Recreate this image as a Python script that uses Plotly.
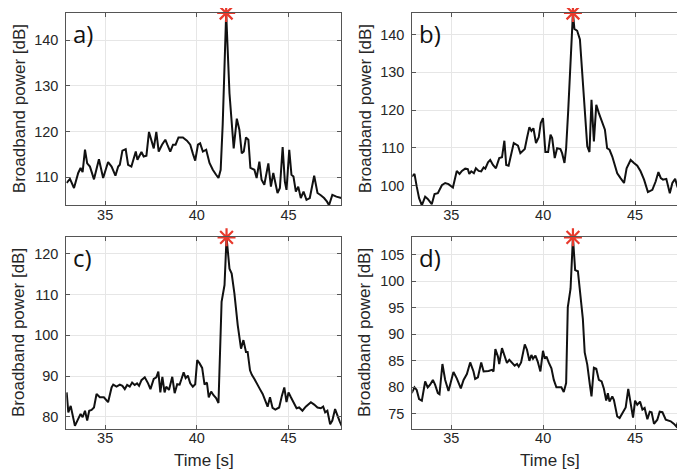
import plotly.graph_objects as go
from plotly.subplots import make_subplots

# ---------------- data ----------------
t_a = [32.9, 33.08, 33.3, 33.53, 33.66, 33.77, 33.9, 34.02, 34.17, 34.39, 34.66, 34.89, 35.16, 35.35,
       35.56, 35.71, 35.8, 35.94, 36.12, 36.25, 36.43, 36.67, 36.76, 36.98, 37.1, 37.25, 37.39, 37.56,
       37.65, 37.79, 37.92, 38.1, 38.28, 38.39, 38.55, 38.7, 38.84, 39.0, 39.24, 39.46, 39.64, 39.78,
       39.91, 40.06, 40.18, 40.33, 40.51, 40.69, 40.87, 41.05, 41.18, 41.3, 41.41, 41.6, 41.78, 42.01,
       42.18, 42.32, 42.45, 42.56, 42.68, 42.81, 42.92, 43.14, 43.26, 43.41, 43.53, 43.68, 43.9, 44.04,
       44.17, 44.4, 44.53, 44.68, 44.8, 44.89, 45.04, 45.16, 45.27, 45.4, 45.53, 45.67, 45.82, 45.98,
       46.16, 46.4, 46.58, 46.76, 46.94, 47.1, 47.21, 47.39, 47.61, 47.88]
p_a = [108.7, 109.6, 107.6, 110.9, 112.0, 111.1, 116.0, 113.0, 112.3, 109.5, 113.9, 109.8, 113.3, 112.3,
       110.3, 112.3, 112.7, 115.8, 116.1, 112.7, 112.3, 115.6, 113.8, 115.5, 114.5, 114.7, 119.9, 117.1,
       116.3, 119.9, 115.6, 117.1, 118.2, 117.1, 115.6, 117.1, 117.1, 118.7, 118.7, 118.0, 117.1, 115.2,
       113.6, 117.1, 117.4, 115.6, 116.0, 113.1, 111.6, 110.5, 109.8, 111.6, 121.5, 146.0, 128.4, 116.3,
       122.8, 120.4, 115.2, 115.6, 118.7, 118.2, 112.0, 111.6, 109.8, 113.4, 109.4, 108.3, 113.0, 107.9,
       110.9, 106.5, 107.6, 116.6, 109.0, 107.2, 116.0, 110.5, 110.1, 106.8, 107.9, 105.4, 106.8, 105.0,
       105.4, 110.3, 106.5, 106.0, 105.4, 104.6, 103.8, 106.1, 105.7, 105.4]

t_b = [32.85, 33.0, 33.12, 33.25, 33.4, 33.58, 33.72, 33.94, 34.09, 34.27, 34.49, 34.67, 34.85, 35.09,
       35.3, 35.45, 35.58, 35.76, 35.9, 35.98, 36.09, 36.23, 36.34, 36.49, 36.63, 36.76, 36.85, 37.0,
       37.12, 37.27, 37.43, 37.61, 37.76, 37.89, 37.99, 38.12, 38.4, 38.63, 38.76, 39.0, 39.12, 39.25,
       39.36, 39.47, 39.61, 39.76, 39.87, 39.99, 40.12, 40.27, 40.4, 40.49, 40.63, 40.76, 40.94, 41.03,
       41.16, 41.25, 41.36, 41.5, 41.62, 41.7, 41.85, 42.0, 42.2, 42.4, 42.52, 42.63, 42.76, 42.89,
       43.03, 43.21, 43.36, 43.48, 43.61, 43.76, 43.89, 44.03, 44.21, 44.4, 44.54, 44.76, 44.94, 45.12,
       45.3, 45.49, 45.7, 45.94, 46.12, 46.27, 46.4, 46.52, 46.7, 46.89, 47.03, 47.18, 47.3, 47.4,
       47.49, 47.61, 47.76, 47.9]
p_b = [102.4, 103.1, 99.8, 96.7, 94.8, 97.1, 96.5, 95.1, 97.8, 98.0, 100.1, 100.7, 100.4, 99.5,
       103.9, 103.1, 103.9, 104.5, 104.4, 103.1, 103.8, 103.3, 104.6, 103.9, 103.8, 104.8, 104.5, 106.2,
       106.8, 105.5, 104.6, 107.3, 107.5, 111.9, 105.5, 105.3, 111.3, 110.6, 108.6, 109.7, 112.6, 115.5,
       114.5, 115.2, 111.3, 112.8, 116.6, 117.9, 108.9, 108.9, 113.5, 112.6, 107.3, 109.9, 109.7, 108.6,
       106.0, 109.9, 119.6, 135.0, 145.7, 141.5, 141.0, 138.7, 125.0, 110.4, 108.9, 122.7, 111.7, 121.4,
       119.2, 117.0, 114.8, 109.9, 109.5, 107.7, 105.5, 103.3, 102.0, 100.7, 104.6, 106.8, 106.0, 105.3,
       103.8, 101.6, 98.3, 98.9, 101.1, 103.6, 102.0, 101.6, 101.8, 98.0, 100.7, 101.8, 99.8, 98.5,
       99.8, 97.1, 96.5, 96.0]

t_c = [32.9, 32.99, 33.12, 33.23, 33.35, 33.53, 33.66, 33.77, 33.9, 34.02, 34.13, 34.26, 34.39, 34.53,
       34.71, 34.93, 35.16, 35.35, 35.44, 35.62, 35.8, 35.94, 36.07, 36.2, 36.34, 36.47, 36.61, 36.74,
       36.85, 36.98, 37.16, 37.34, 37.47, 37.65, 37.79, 37.9, 38.01, 38.12, 38.24, 38.33, 38.48, 38.66,
       38.79, 38.93, 39.06, 39.15, 39.28, 39.39, 39.51, 39.64, 39.78, 39.91, 40.02, 40.15, 40.29, 40.42,
       40.55, 40.65, 40.78, 40.91, 41.05, 41.18, 41.35, 41.51, 41.62, 41.78, 41.9, 42.05, 42.23, 42.41,
       42.54, 42.68, 42.77, 42.9, 43.0, 43.14, 43.32, 43.44, 43.59, 43.72, 43.86, 43.99, 44.13, 44.28,
       44.49, 44.64, 44.77, 44.89, 45.0, 45.13, 45.31, 45.44, 45.58, 45.76, 45.94, 46.22, 46.4, 46.58,
       46.76, 46.89, 47.0, 47.12, 47.27, 47.39, 47.54, 47.66, 47.79, 47.9]
p_c = [86.0, 81.1, 82.7, 80.7, 77.8, 79.5, 80.7, 79.9, 81.5, 79.1, 81.5, 81.7, 82.3, 85.6,
       84.8, 84.8, 83.6, 87.2, 87.9, 87.4, 87.9, 87.6, 86.8, 87.8, 87.4, 88.4, 87.8, 88.2,
       87.6, 89.0, 89.7, 88.2, 86.8, 89.3, 89.7, 91.1, 86.0, 89.8, 86.0, 87.4, 86.6, 89.8,
       85.8, 88.0, 87.9, 89.1, 90.9, 89.5, 90.1, 88.2, 87.4, 88.0, 93.9, 93.1, 92.0, 87.9,
       88.4, 84.8, 86.2, 85.3, 84.6, 83.4, 108.2, 112.3, 124.0, 116.3, 115.1, 110.2, 102.5, 96.7,
       98.8, 95.9, 95.9, 91.4, 90.3, 89.3, 88.0, 86.8, 85.6, 84.0, 82.5, 84.8, 82.2, 81.8,
       82.3, 85.2, 87.2, 83.6, 86.0, 84.8, 83.1, 82.1, 82.3, 81.5, 82.5, 83.6, 83.0, 82.3,
       82.1, 82.5, 81.1, 81.5, 78.2, 79.1, 81.9, 80.3, 78.9, 77.8]

t_d = [32.85, 33.0, 33.12, 33.25, 33.4, 33.58, 33.72, 33.85, 34.0, 34.12, 34.27, 34.36, 34.52, 34.67,
       34.85, 35.12, 35.3, 35.52, 35.67, 35.85, 36.03, 36.21, 36.3, 36.45, 36.63, 36.76, 37.03, 37.21,
       37.3, 37.4, 37.54, 37.61, 37.76, 37.89, 38.03, 38.16, 38.3, 38.45, 38.58, 38.67, 38.8, 39.0,
       39.12, 39.25, 39.36, 39.45, 39.58, 39.7, 39.85, 39.99, 40.09, 40.18, 40.3, 40.45, 40.58, 40.72,
       40.9, 40.99, 41.12, 41.25, 41.34, 41.49, 41.62, 41.74, 41.89, 42.02, 42.16, 42.26, 42.4, 42.54,
       42.63, 42.76, 42.89, 43.03, 43.18, 43.3, 43.43, 43.52, 43.61, 43.76, 43.85, 44.03, 44.16, 44.34,
       44.49, 44.63, 44.76, 44.89, 45.0, 45.12, 45.27, 45.4, 45.52, 45.67, 45.8, 45.9, 46.03, 46.21,
       46.34, 46.49, 46.67, 46.94, 47.12, 47.25, 47.4, 47.54, 47.67, 47.76, 47.9]
p_d = [78.9, 80.0, 79.5, 77.8, 77.5, 81.1, 80.0, 80.5, 81.4, 80.5, 78.9, 78.7, 84.4, 81.4,
       79.3, 82.9, 81.7, 79.8, 81.4, 82.5, 84.7, 83.0, 81.6, 81.9, 84.7, 83.0, 83.1, 83.3,
       83.0, 87.2, 85.8, 84.4, 87.4, 85.8, 84.6, 85.2, 84.7, 84.1, 84.4, 83.9, 84.7, 88.1,
       87.1, 85.0, 86.1, 85.4, 86.0, 84.9, 83.0, 86.9, 85.4, 85.8, 84.7, 83.6, 81.4, 80.0,
       80.0, 80.0, 79.1, 80.8, 95.1, 98.6, 108.3, 102.1, 101.9, 97.3, 92.9, 86.6, 84.3, 80.5,
       78.3, 83.7, 83.5, 81.4, 81.1, 79.8, 77.5, 78.9, 77.3, 78.3, 77.6, 74.5, 74.2, 75.3,
       76.2, 79.7, 77.0, 74.3, 77.5, 76.7, 77.3, 75.8, 76.1, 74.0, 75.4, 75.3, 73.1, 73.9,
       75.4, 75.3, 73.9, 73.6, 73.1, 72.6, 74.2, 73.9, 74.7, 73.1, 74.2]

peak_t = [41.6, 41.62, 41.62, 41.62]
peak_p = [146.0, 145.7, 124.0, 108.3]

panel_labels = ["a)", "b)", "c)", "d)"]
y_ranges = [[103.8, 146.0], [94.8, 145.7], [77.1, 124.0], [72.2, 108.3]]
y_dticks = [10, 10, 10, 5]
x_ticks = [35, 40, 45]

series_t = [t_a, t_b, t_c, t_d]
series_p = [p_a, p_b, p_c, p_d]

# ---------------- figure ----------------
fig = make_subplots(rows=2, cols=2)
positions = [(1, 1), (1, 2), (2, 1), (2, 2)]
RED = "#e8392c"

for i, (r, c) in enumerate(positions):
    fig.add_trace(go.Scatter(x=series_t[i], y=series_p[i], mode="lines",
                             line=dict(color="#111111", width=2), showlegend=False,
                             hoverinfo="skip"), row=r, col=c)
    fig.add_trace(go.Scatter(x=[peak_t[i]], y=[peak_p[i]], mode="markers",
                             marker=dict(symbol="asterisk-open", size=15, color=RED,
                                         line=dict(color=RED, width=2.2)),
                             cliponaxis=False, showlegend=False), row=r, col=c)

x_dom = [[0.0851, 0.4866], [0.5902, 0.9927]]
y_dom = [[0.5793, 0.9893], [0.1030, 0.5111]]

tickfont = dict(family="Liberation Sans, Arial, sans-serif", size=14.5, color="#262626")
axcommon = dict(showline=True, mirror="ticks", linecolor="#555555", linewidth=1,
                ticks="inside", ticklen=4, tickcolor="#555555",
                showgrid=True, gridcolor="#e6e6e6", gridwidth=1,
                zeroline=False, tickfont=tickfont)

for i, (r, c) in enumerate(positions):
    sfx = "" if i == 0 else str(i + 1)
    fig.layout["xaxis" + sfx].update(domain=x_dom[c - 1], range=[32.88, 47.88],
                                     tickvals=x_ticks, ticklabelstandoff=-4, **axcommon)
    fig.layout["yaxis" + sfx].update(domain=y_dom[r - 1], range=y_ranges[i],
                                     dtick=y_dticks[i], ticklabelstandoff=4, **axcommon)

labfont = dict(family="Liberation Sans, Arial, sans-serif", size=17, color="#262626")
y_title_x = [11 / 685, 357 / 685]
for (r, c) in positions:
    yc = (y_dom[r - 1][0] + y_dom[r - 1][1]) / 2
    fig.add_annotation(text="Broadband power [dB]", x=y_title_x[c - 1], y=yc,
                       xref="paper", yref="paper", textangle=-90, showarrow=False,
                       font=labfont, xanchor="center", yanchor="middle")
for c in (1, 2):
    xc = (x_dom[c - 1][0] + x_dom[c - 1][1]) / 2
    fig.add_annotation(text="Time [s]", x=xc, y=1 - 452 / 469, xref="paper", yref="paper",
                       showarrow=False, font=labfont, xanchor="center", yanchor="middle",
                       borderpad=0)

for i, (r, c) in enumerate(positions):
    fig.add_annotation(text=panel_labels[i], x=x_dom[c - 1][0] + 5 / 685,
                       y=y_dom[r - 1][1] - 20 / 469, xref="paper", yref="paper",
                       showarrow=False, xanchor="left", yanchor="middle",
                       font=dict(family="Open Sans, Lato, sans-serif", size=24, color="#111111"))

fig.update_layout(width=685, height=469, margin=dict(l=0, r=0, t=0, b=0),
                  paper_bgcolor="white", plot_bgcolor="white")

fig.write_html("out.html")
